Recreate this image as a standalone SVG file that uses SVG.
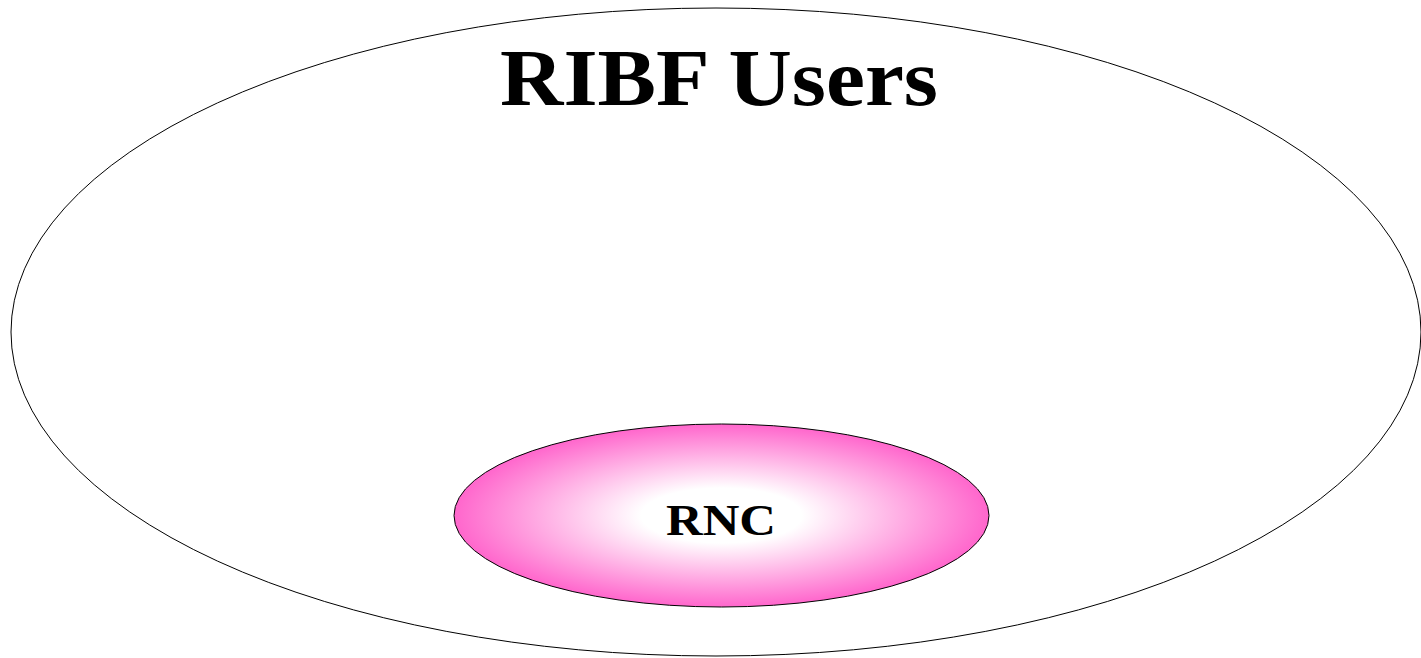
<svg xmlns="http://www.w3.org/2000/svg" width="1421" height="658" viewBox="0 0 1421 658">
<style>
.outline{fill:none;stroke:#000;stroke-width:1}
.lbl{font-family:"Liberation Serif","DejaVu Serif",serif;font-weight:bold;fill:#000;text-anchor:middle}
</style>
<defs>
<radialGradient id="pink" cx="50%" cy="50%" r="50%">
<stop offset="0" stop-color="#ffffff"/>
<stop offset="0.3" stop-color="#ffffff"/>
<stop offset="1" stop-color="#ff66cc"/>
</radialGradient>
</defs>
<rect width="1421" height="658" fill="#fff"/>
<g id="ribf-users">
<ellipse class="outline" cx="716" cy="332" rx="705" ry="324"/>
<text class="lbl" x="719" y="105" font-size="80" textLength="438" lengthAdjust="spacingAndGlyphs">RIBF Users</text>
</g>
<g id="rnc">
<ellipse cx="721.5" cy="515.5" rx="267.5" ry="91.5" fill="url(#pink)" stroke="#000" stroke-width="1"/>
<text class="lbl" x="721" y="535" font-size="44" textLength="110" lengthAdjust="spacingAndGlyphs">RNC</text>
</g>
<g id="connectors"/>
</svg>
